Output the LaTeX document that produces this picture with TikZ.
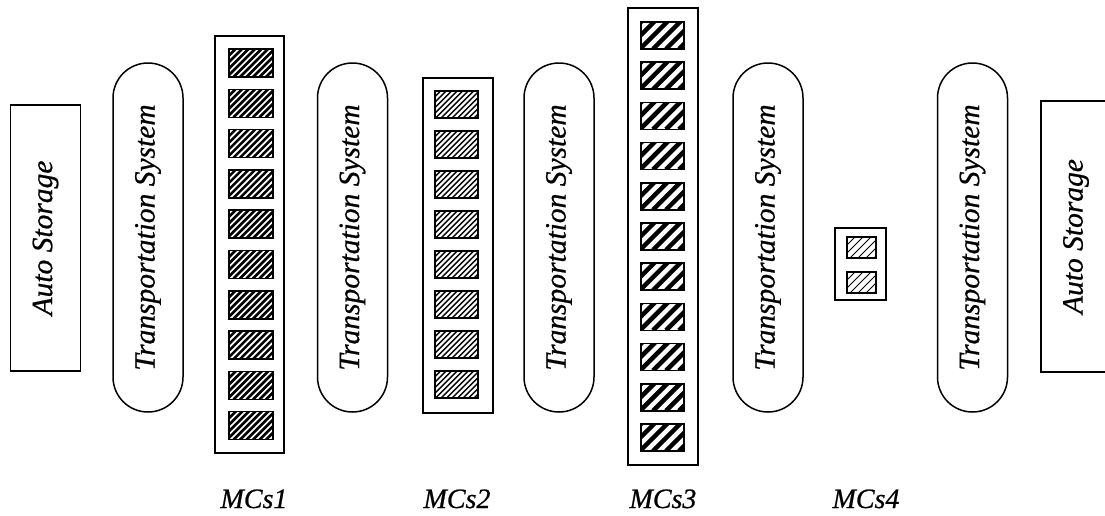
\documentclass[tikz,border=0pt]{standalone}
\usepackage{fontspec}
\setmainfont{Liberation Serif}
\newfontfamily\labelfont{Liberation Serif}[ItalicFeatures={FakeBold=0.7}]
\newcommand\hatchbox[6]{%
  \begin{scope}
    \clip (#1,#2) rectangle ++(#3,#4);
    \foreach \k in {0,...,18}
      \draw[line width=#6] ({#1-#4+\k*#5},{#2+#4}) -- ++(#4+2,-#4-2);
  \end{scope}
  \draw[sqline] (#1,#2) rectangle ++(#3,#4);
}
\begin{document}
\begin{tikzpicture}[x=1pt,y=-1pt,
  box/.style={draw, line width=1.5pt, rectangle, inner sep=0pt, rotate=90},
  pill/.style={draw, line width=1.5pt, rectangle, rounded corners=35pt, inner sep=0pt, rotate=90,
     minimum width=349pt, minimum height=70pt},
  txt/.style={font=\labelfont\fontsize{29.5}{32}\selectfont\itshape},
  lbl/.style={font=\labelfont\fontsize{28}{30}\selectfont\itshape, anchor=base},
  col/.style={draw, line width=1.5pt, inner sep=0pt},
  sqline/.style={line width=1.5pt}]
\useasboundingbox (0,0) rectangle (1105,515);
\fill[white] (0,0) rectangle (1105,515);

% Auto storage boxes
\node[box, txt, minimum width=266pt, minimum height=70pt] (as1) at (45.5,238) {Auto Storage};
\node[box, txt, minimum width=271pt, minimum height=70pt] (as2) at (1076,236.5) {Auto Storage};

% Transportation systems
\node[pill, txt] (ts1) at (148,237.5) {Transportation System};
\node[pill, txt] (ts2) at (352.5,237.5) {Transportation System};
\node[pill, txt] (ts3) at (559,237.5) {Transportation System};
\node[pill, txt] (ts4) at (768,237.5) {Transportation System};
\node[pill, txt] (ts5) at (972.5,237.5) {Transportation System};

% MC columns
\node[col, minimum width=69pt, minimum height=417pt] (mc1) at (249.5,244.5) {};
\node[col, minimum width=70pt, minimum height=335pt] (mc2) at (458,245.5) {};
\node[col, minimum width=70pt, minimum height=457pt] (mc3) at (663,236.5) {};
\node[col, minimum width=51pt, minimum height=72pt] (mc4) at (860.5,264) {};

\foreach \i in {0,...,9} { \hatchbox{229}{49+\i*40.3}{44}{28}{6.5}{2.6pt} }
\foreach \i in {0,...,7} { \hatchbox{435}{91+\i*40}{43}{27}{5.5}{1.4pt} }
\foreach \i in {0,...,10} { \hatchbox{641}{22+\i*40.2}{43}{27}{13}{4.5pt} }
\foreach \i in {0,...,1} { \hatchbox{847}{237+\i*35}{29}{21}{8}{1pt} }

% labels
\node[lbl] (l1) at (254,508) {MCs1};
\node[lbl] (l2) at (457,508) {MCs2};
\node[lbl] (l3) at (663,508) {MCs3};
\node[lbl] (l4) at (866,508) {MCs4};
\end{tikzpicture}
\end{document}
